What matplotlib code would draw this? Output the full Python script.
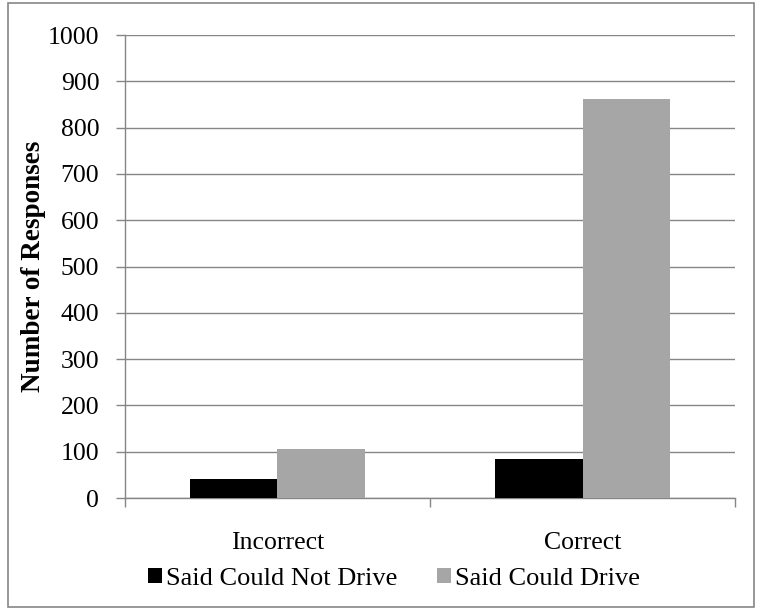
import matplotlib
matplotlib.use("Agg")
import matplotlib.pyplot as plt
from matplotlib.patches import Rectangle, Patch
import numpy as np

categories = ["Incorrect", "Correct"]
series_names = ["Said Could Not Drive", "Said Could Drive"]
not_drive = [42, 85]
could_drive = [106, 862]
colors = ["#000000", "#A6A6A6"]
yticks = [0, 100, 200, 300, 400, 500, 600, 700, 800, 900, 1000]

plt.rcParams['font.family'] = ['Liberation Serif', 'DejaVu Serif']
fig = plt.figure(figsize=(7.62, 6.13), dpi=100)
ax = fig.add_axes([0.164, 0.1876, 0.8006, 0.7553])

x = np.arange(len(categories))
w = 1 / 3.5
ax.bar(x - w / 2, not_drive, width=w, color=colors[0], zorder=3, edgecolor="none")
ax.bar(x + w / 2, could_drive, width=w, color=colors[1], zorder=3, edgecolor="none")

ax.set_xlim(-0.5, 1.5)
ax.set_ylim(0, 1000)
ax.set_yticks(yticks)
ax.set_yticklabels([str(t) for t in yticks], fontsize=18.5)
ax.yaxis.grid(True, color="#868686", linewidth=1.0, zorder=0)
ax.set_axisbelow(True)

ax.set_xticks([-0.5, 0.5, 1.5])
ax.set_xticklabels([])
for xi, c in zip(x, categories):
    ax.text(xi, -0.073, c, transform=ax.get_xaxis_transform(), ha="center", va="top", fontsize=18.5)

ax.tick_params(axis="x", direction="out", length=6.5, color="#868686", width=1)
ax.tick_params(axis="y", direction="out", length=6.5, color="#868686", width=1, pad=12)
for s in ["top", "right"]:
    ax.spines[s].set_visible(False)
for s in ["left", "bottom"]:
    ax.spines[s].set_color("#868686")
    ax.spines[s].set_linewidth(1)

ax.set_ylabel("Number of Responses", fontsize=19.5, fontweight="bold")
ax.yaxis.set_label_coords(-0.13, 0.5)

handles = [Patch(facecolor=colors[0]), Patch(facecolor=colors[1])]
fig.legend(handles, series_names, loc="center", bbox_to_anchor=(0.517, 0.056), ncol=2,
           frameon=False, fontsize=19, handlelength=0.55, handleheight=0.55,
           handletextpad=0.15, columnspacing=1.5)

fig.patches.append(Rectangle((0.011, 0.01), 0.979, 0.985, transform=fig.transFigure,
                             fill=False, edgecolor="#868686", linewidth=1.2))

fig.savefig("out.png", dpi=100)
